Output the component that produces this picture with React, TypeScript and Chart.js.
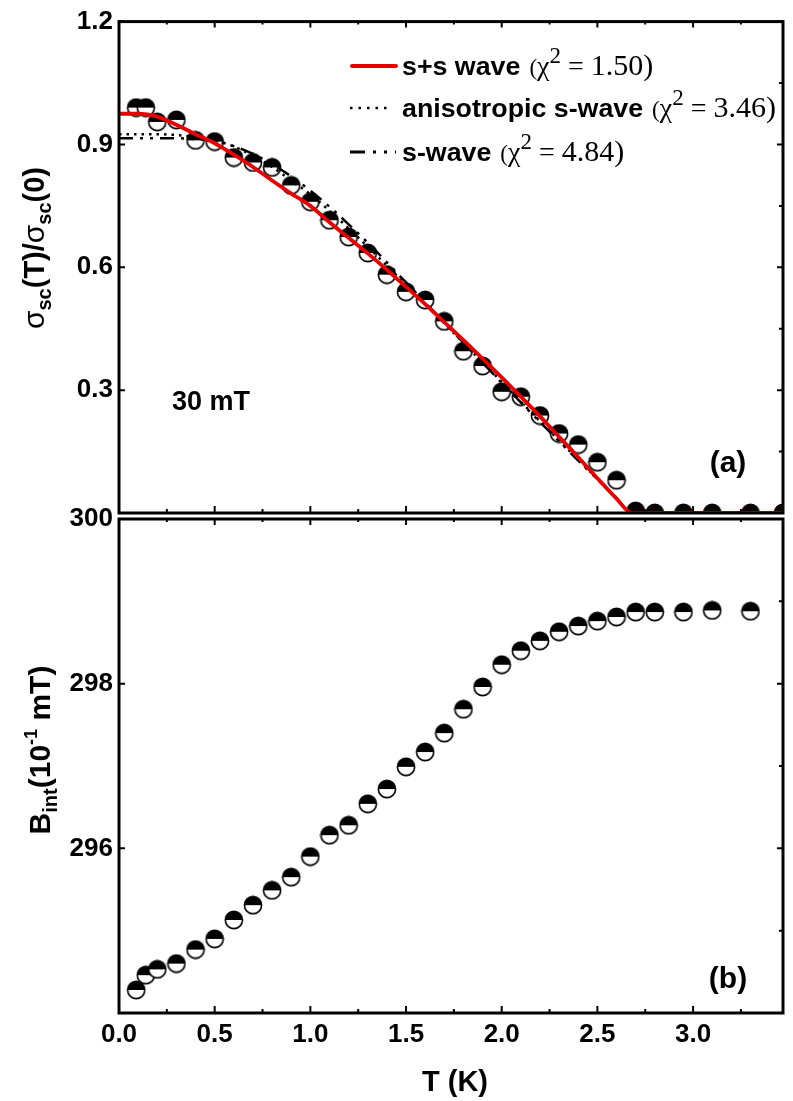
import React, { useEffect, useRef } from 'react';
import { Chart, registerables } from 'chart.js';

Chart.register(...registerables);

const W = 793;
const H = 1101;

// ---------- data ----------
const T_SC = [0.09, 0.14, 0.2, 0.3, 0.4, 0.5, 0.6, 0.7, 0.8, 0.9, 1.0, 1.1, 1.2, 1.3, 1.4, 1.5, 1.6, 1.7, 1.8, 1.9, 2.0, 2.1, 2.2, 2.3, 2.4, 2.5, 2.6, 2.7, 2.8, 2.95, 3.1, 3.3, 3.47];
const SIGMA = [0.99, 0.99, 0.955, 0.96, 0.91, 0.907, 0.868, 0.856, 0.844, 0.8, 0.76, 0.715, 0.674, 0.635, 0.582, 0.54, 0.52, 0.468, 0.395, 0.359, 0.296, 0.284, 0.238, 0.194, 0.167, 0.124, 0.08, 0.005, 0, 0, 0, 0, 0];

const FIT_T = [0, 0.1, 0.2, 0.3, 0.4, 0.5, 0.6, 0.7, 0.8, 0.9, 1.0, 1.1, 1.2, 1.3, 1.4, 1.5, 1.6, 1.7, 1.8, 1.9, 2.0, 2.1, 2.2, 2.3, 2.4, 2.5, 2.6, 2.68, 3.47];
const FIT_SS = [0.975, 0.975, 0.968, 0.948, 0.925, 0.903, 0.875, 0.845, 0.812, 0.78, 0.75, 0.71, 0.672, 0.634, 0.594, 0.552, 0.51, 0.466, 0.422, 0.377, 0.331, 0.284, 0.236, 0.186, 0.136, 0.085, 0.035, 0, 0];
const FIT_ANISO = [0.925, 0.925, 0.925, 0.923, 0.918, 0.91, 0.895, 0.872, 0.845, 0.812, 0.778, 0.738, 0.695, 0.65, 0.604, 0.557, 0.51, 0.463, 0.415, 0.368, 0.32, 0.272, 0.224, 0.177, 0.13, 0.083, 0.036, 0, 0];
const FIT_S = [0.915, 0.915, 0.915, 0.915, 0.913, 0.908, 0.896, 0.877, 0.852, 0.822, 0.787, 0.748, 0.705, 0.66, 0.612, 0.563, 0.514, 0.465, 0.416, 0.367, 0.318, 0.27, 0.222, 0.175, 0.128, 0.082, 0.036, 0, 0];

const T_B = [0.09, 0.14, 0.2, 0.3, 0.4, 0.5, 0.6, 0.7, 0.8, 0.9, 1.0, 1.1, 1.2, 1.3, 1.4, 1.5, 1.6, 1.7, 1.8, 1.9, 2.0, 2.1, 2.2, 2.3, 2.4, 2.5, 2.6, 2.7, 2.8, 2.95, 3.1, 3.3];
const B_INT = [294.28, 294.46, 294.53, 294.6, 294.77, 294.9, 295.13, 295.31, 295.49, 295.65, 295.9, 296.16, 296.28, 296.54, 296.72, 296.99, 297.17, 297.4, 297.69, 297.96, 298.23, 298.4, 298.52, 298.63, 298.7, 298.76, 298.81, 298.87, 298.87, 298.87, 298.89, 298.88];

// axes / ticks
const X_MIN = 0;
const X_MAX = 3.47;
const X_MAJOR = [0, 0.5, 1.0, 1.5, 2.0, 2.5, 3.0];
const X_MINOR = [0.25, 0.75, 1.25, 1.75, 2.25, 2.75, 3.25];
const YA_MAJOR = [0, 0.3, 0.6, 0.9, 1.2];
const YA_MINOR = [0.15, 0.45, 0.75, 1.05];
const YB_MAJOR = [294, 296, 298, 300];
const YB_MINOR = [295, 297, 299];

const LEGEND = [
  { name: 's+s wave', chi: '1.50' },
  { name: 'anisotropic s-wave', chi: '3.46' },
  { name: 's-wave', chi: '4.84' },
];

const SANS = '"Liberation Sans", Arial, sans-serif';
const SERIF = '"Liberation Serif", "Times New Roman", serif';
const RED = '#e80000';

type Run = { t: string; font: string; dy?: number };

function drawRuns(ctx: CanvasRenderingContext2D, x: number, y: number, runs: Run[], align: 'left' | 'center' = 'left') {
  ctx.textBaseline = 'alphabetic';
  ctx.textAlign = 'left';
  let total = 0;
  for (const r of runs) {
    ctx.font = r.font;
    total += ctx.measureText(r.t).width;
  }
  let cx = align === 'center' ? x - total / 2 : x;
  for (const r of runs) {
    ctx.font = r.font;
    ctx.fillText(r.t, cx, y + (r.dy || 0));
    cx += ctx.measureText(r.t).width;
  }
  return cx;
}

function makeMarker(): HTMLCanvasElement {
  const c = document.createElement('canvas');
  const s = 20;
  c.width = s;
  c.height = s;
  const g = c.getContext('2d')!;
  const r = 8.6;
  const cx = s / 2;
  const cy = s / 2;
  g.beginPath();
  g.arc(cx, cy, r, 0, Math.PI * 2);
  g.fillStyle = '#fff';
  g.fill();
  g.beginPath();
  g.arc(cx, cy, r, Math.PI, 2 * Math.PI);
  g.closePath();
  g.fillStyle = '#000';
  g.fill();
  g.beginPath();
  g.arc(cx, cy, r, 0, Math.PI * 2);
  g.lineWidth = 1.6;
  g.strokeStyle = '#000';
  g.stroke();
  return c;
}

function framePlugin(id: string, yMajor: number[], yMinor: number[]) {
  return {
    id,
    afterDatasetsDraw(chart: any) {
      const { ctx, chartArea: a, scales } = chart;
      const xs = scales.x;
      const ys = scales.y;
      ctx.save();
      ctx.strokeStyle = '#000';
      ctx.lineWidth = 2;
      ctx.beginPath();
      const tick = (x1: number, y1: number, x2: number, y2: number) => {
        ctx.moveTo(x1, y1);
        ctx.lineTo(x2, y2);
      };
      for (const v of X_MAJOR) {
        const px = xs.getPixelForValue(v);
        tick(px, a.bottom, px, a.bottom - 7);
        tick(px, a.top, px, a.top + 6);
      }
      for (const v of X_MINOR) {
        const px = xs.getPixelForValue(v);
        tick(px, a.bottom, px, a.bottom - 4);
        tick(px, a.top, px, a.top + 3);
      }
      for (const v of yMajor) {
        const py = ys.getPixelForValue(v);
        tick(a.left, py, a.left + 6, py);
        tick(a.right, py, a.right - 6, py);
      }
      for (const v of yMinor) {
        const py = ys.getPixelForValue(v);
        tick(a.right, py, a.right - 4, py);
      }
      ctx.stroke();
      ctx.lineWidth = 3;
      ctx.strokeRect(a.left, a.top, a.right - a.left, a.bottom - a.top);
      ctx.restore();
    },
  };
}

const topTextPlugin = {
  id: 'topText',
  afterDraw(chart: any) {
    const ctx: CanvasRenderingContext2D = chart.ctx;
    ctx.save();
    ctx.fillStyle = '#000';
    // legend
    const rows = [66, 108, 152];
    const sx1 = 350;
    const sx2 = 396;
    // red solid
    ctx.strokeStyle = RED;
    ctx.lineWidth = 4;
    ctx.lineCap = 'round';
    ctx.beginPath();
    ctx.moveTo(sx1 + 2, rows[0]);
    ctx.lineTo(sx2, rows[0]);
    ctx.stroke();
    // dotted
    ctx.strokeStyle = '#000';
    ctx.lineCap = 'butt';
    ctx.lineWidth = 2.5;
    ctx.setLineDash([2.5, 6]);
    ctx.beginPath();
    ctx.moveTo(sx1, rows[1]);
    ctx.lineTo(sx2 - 4, rows[1]);
    ctx.stroke();
    // dash dot dot
    ctx.setLineDash([15, 8, 3, 8, 3, 8]);
    ctx.lineWidth = 3;
    ctx.beginPath();
    ctx.moveTo(sx1, rows[2]);
    ctx.lineTo(sx2, rows[2]);
    ctx.stroke();
    ctx.setLineDash([]);
    LEGEND.forEach((l, i) => {
      const base = rows[i] + 9;
      ctx.save();
      ctx.translate(402, base);
      ctx.scale(1.03, 1);
      const end = drawRuns(ctx, 0, 0, [{ t: l.name, font: `bold 26px ${SANS}` }]);
      ctx.restore();
      drawRuns(ctx, 402 + end * 1.03 + 9, base, [
        { t: '(', font: `23px ${SERIF}` },
        { t: 'χ', font: `28px ${SERIF}` },
        { t: '2', font: `23px ${SERIF}`, dy: -12 },
        { t: ' = ', font: `28px ${SERIF}` },
        { t: l.chi + ')', font: `30px ${SERIF}` },
      ]);
    });
    // annotations
    drawRuns(ctx, 211, 410, [{ t: '30 mT', font: `bold 27px ${SANS}` }], 'center');
    drawRuns(ctx, 728, 472, [{ t: '(a)', font: `bold 30px ${SANS}` }], 'center');
    // y title
    ctx.translate(44, 248);
    ctx.rotate(-Math.PI / 2);
    drawRuns(
      ctx,
      0,
      0,
      [
        { t: 'σ', font: `30px ${SANS}` },
        { t: 'sc', font: `bold 20px ${SANS}`, dy: 7 },
        { t: '(T)/', font: `bold 29px ${SANS}` },
        { t: 'σ', font: `30px ${SANS}` },
        { t: 'sc', font: `bold 20px ${SANS}`, dy: 7 },
        { t: '(0)', font: `bold 29px ${SANS}` },
      ],
      'center'
    );
    ctx.restore();
  },
};

const bottomTextPlugin = {
  id: 'bottomText',
  afterDraw(chart: any) {
    const ctx: CanvasRenderingContext2D = chart.ctx;
    ctx.save();
    ctx.fillStyle = '#000';
    drawRuns(ctx, 728, 988, [{ t: '(b)', font: `bold 30px ${SANS}` }], 'center');
    drawRuns(ctx, 455, 1091, [{ t: 'T (K)', font: `bold 29px ${SANS}` }], 'center');
    ctx.translate(50, 750);
    ctx.rotate(-Math.PI / 2);
    drawRuns(
      ctx,
      0,
      0,
      [
        { t: 'B', font: `bold 30px ${SANS}` },
        { t: 'int', font: `bold 20px ${SANS}`, dy: 7 },
        { t: '(10', font: `bold 30px ${SANS}` },
        { t: '-1', font: `bold 18px ${SANS}`, dy: -13 },
        { t: ' mT)', font: `bold 30px ${SANS}` },
      ],
      'center'
    );
    ctx.restore();
  },
};

const tickFont = { family: SANS, size: 26, weight: 'bold' as const };

export default function App() {
  const topRef = useRef<HTMLCanvasElement>(null);
  const botRef = useRef<HTMLCanvasElement>(null);

  useEffect(() => {
    const marker = makeMarker();
    const pts = (xs: number[], ys: number[]) => xs.map((x, i) => ({ x, y: ys[i] }));

    const topChart = new Chart(topRef.current!, {
      type: 'scatter',
      data: {
        datasets: [
          {
            label: 's+s wave',
            data: pts(FIT_T, FIT_SS),
            showLine: true,
            borderColor: RED,
            borderWidth: 3.8,
            pointRadius: 0,
            cubicInterpolationMode: 'monotone',
            order: 0,
          } as any,
          {
            label: 'anisotropic s-wave',
            data: pts(FIT_T, FIT_ANISO),
            showLine: true,
            borderColor: '#000',
            borderWidth: 2.5,
            borderDash: [2.5, 5],
            pointRadius: 0,
            cubicInterpolationMode: 'monotone',
            order: 1,
          },
          {
            label: 's-wave',
            data: pts(FIT_T, FIT_S),
            showLine: true,
            borderColor: '#000',
            borderWidth: 2.5,
            borderDash: [14, 7, 3, 7, 3, 7],
            pointRadius: 0,
            cubicInterpolationMode: 'monotone',
            order: 2,
          },
          {
            label: 'data',
            data: pts(T_SC, SIGMA),
            pointStyle: marker,
            pointRadius: 9,
            clip: 0,
            order: 3,
          },
        ],
      },
      options: {
        responsive: false,
        animation: false,
        devicePixelRatio: 1,
        layout: { padding: { top: 18, right: 7, bottom: H - 513, left: 0 } },
        plugins: { legend: { display: false }, tooltip: { enabled: false } },
        scales: {
          x: { type: 'linear', min: X_MIN, max: X_MAX, display: false },
          y: {
            type: 'linear',
            min: 0,
            max: 1.2,
            grid: { display: false, drawTicks: false },
            border: { display: false },
            afterFit: (s: any) => {
              s.width = 119;
            },
            ticks: {
              stepSize: 0.3,
              padding: 6,
              color: '#000',
              font: tickFont,
              callback: (v: any) => (Math.abs(v) < 1e-9 ? '' : Number(v).toFixed(1)),
            },
          },
        },
      },
      plugins: [framePlugin('frameTop', YA_MAJOR, YA_MINOR), topTextPlugin],
    });

    const botChart = new Chart(botRef.current!, {
      type: 'scatter',
      data: {
        datasets: [
          {
            label: 'Bint',
            data: pts(T_B, B_INT),
            pointStyle: marker,
            pointRadius: 9,
            clip: 0,
          },
        ],
      },
      options: {
        responsive: false,
        animation: false,
        devicePixelRatio: 1,
        layout: { padding: { top: 519, right: 7, bottom: 0, left: 0 } },
        plugins: { legend: { display: false }, tooltip: { enabled: false } },
        scales: {
          x: {
            type: 'linear',
            min: X_MIN,
            max: X_MAX,
            grid: { display: false, drawTicks: false },
            border: { display: false },
            afterFit: (s: any) => {
              s.height = 88;
            },
            ticks: {
              stepSize: 0.5,
              includeBounds: false,
              padding: 6,
              color: '#000',
              font: tickFont,
              maxRotation: 0,
              callback: (v: any) => Number(v).toFixed(1),
            },
          },
          y: {
            type: 'linear',
            min: 294,
            max: 300,
            grid: { display: false, drawTicks: false },
            border: { display: false },
            afterFit: (s: any) => {
              s.width = 119;
            },
            ticks: {
              stepSize: 2,
              padding: 6,
              color: '#000',
              font: tickFont,
              callback: (v: any) => (Math.abs(v - 294) < 1e-9 ? '' : String(Math.round(v))),
            },
          },
        },
      },
      plugins: [framePlugin('frameBot', YB_MAJOR, YB_MINOR), bottomTextPlugin],
    });

    return () => {
      topChart.destroy();
      botChart.destroy();
    };
  }, []);

  const cs: React.CSSProperties = { position: 'absolute', left: 0, top: 0, width: W, height: H };
  return (
    <div style={{ position: 'absolute', left: 0, top: 0, width: W, height: H, background: '#fff' }}>
      <canvas ref={topRef} width={W} height={H} style={cs} />
      <canvas ref={botRef} width={W} height={H} style={cs} />
    </div>
  );
}
